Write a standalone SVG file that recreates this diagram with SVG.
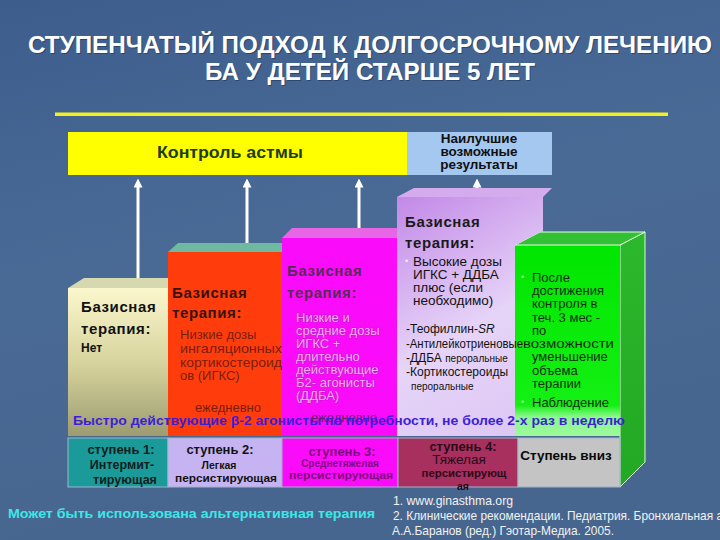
<svg xmlns="http://www.w3.org/2000/svg" width="720" height="540" viewBox="0 0 720 540">
<defs>
<linearGradient id="bg" x1="0" y1="0" x2="0.3" y2="1"><stop offset="0" stop-color="#3d5e8d"/><stop offset="0.5" stop-color="#4a6a96"/><stop offset="1" stop-color="#46668f"/></linearGradient>
<linearGradient id="g1" x1="0" y1="0" x2="0" y2="1"><stop offset="0" stop-color="#fbf7cd"/><stop offset="0.5" stop-color="#d8d49e"/><stop offset="1" stop-color="#9c9c70"/></linearGradient>
<linearGradient id="g4" gradientUnits="userSpaceOnUse" x1="397" y1="190" x2="540" y2="436"><stop offset="0" stop-color="#c186e6"/><stop offset="0.55" stop-color="#e6d4f8"/><stop offset="1" stop-color="#dcc6f4"/></linearGradient>
<linearGradient id="g5" x1="0" y1="0" x2="0" y2="1"><stop offset="0" stop-color="#00e600"/><stop offset="0.84" stop-color="#14f014"/><stop offset="0.9" stop-color="#8cf88c"/><stop offset="1" stop-color="#9cfa9c"/></linearGradient>
<linearGradient id="g5s" x1="0" y1="0" x2="0" y2="1"><stop offset="0" stop-color="#2cb82c"/><stop offset="1" stop-color="#23a823"/></linearGradient>
<marker id="ah" viewBox="0 0 10 10" refX="5" refY="5" markerWidth="3" markerHeight="3" orient="auto"><path d="M0,0 L10,5 L0,10 z" fill="#ffffff"/></marker>
<style>
text{font-family:"Liberation Sans",Arial,sans-serif}
.title{font-size:24px;font-weight:bold;fill:#ffffff;text-anchor:middle}
.tsh{font-size:24px;font-weight:bold;fill:#1e3557;text-anchor:middle;opacity:0.6}
.hd{font-size:15px;font-weight:bold;letter-spacing:0.6px}
.li{font-size:13px}
.cell{font-weight:bold;text-anchor:middle}
.arrow{stroke:#ffffff;stroke-width:3;fill:none;marker-end:url(#ah)}
.ref{font-size:13px;fill:#f2f2f2}
</style>
</defs>
<rect x="0" y="0" width="720" height="540" fill="url(#bg)"/>

<g id="title">
<text class="tsh" x="371" y="54" textLength="684" lengthAdjust="spacingAndGlyphs">СТУПЕНЧАТЫЙ ПОДХОД К ДОЛГОСРОЧНОМУ ЛЕЧЕНИЮ</text>
<text class="title" x="370" y="53" textLength="684" lengthAdjust="spacingAndGlyphs">СТУПЕНЧАТЫЙ ПОДХОД К ДОЛГОСРОЧНОМУ ЛЕЧЕНИЮ</text>
<text class="tsh" x="371" y="81" textLength="330" lengthAdjust="spacingAndGlyphs">БА У ДЕТЕЙ СТАРШЕ 5 ЛЕТ</text>
<text class="title" x="370" y="80" textLength="330" lengthAdjust="spacingAndGlyphs">БА У ДЕТЕЙ СТАРШЕ 5 ЛЕТ</text>
<rect x="55" y="112.5" width="613" height="3.5" fill="#f0f020"/>
</g>

<g id="control">
<rect x="68" y="132" width="339" height="43" fill="#ffff00"/>
<text x="230" y="158" font-size="16" fill="#1d3d12" text-anchor="middle" textLength="146" lengthAdjust="spacingAndGlyphs" font-weight="bold">Контроль астмы</text>
</g>
<g id="results">
<rect x="407" y="132" width="145" height="43" fill="#a4c8f0"/>
<g font-size="13.5" font-weight="bold" fill="#101010" text-anchor="middle">
<text x="479" y="143">Наилучшие</text>
<text x="479" y="156">возможные</text>
<text x="479" y="169">результаты</text>
</g>
</g>

<g id="connectors">
<line class="arrow" x1="138" y1="282" x2="138" y2="183"/>
<line class="arrow" x1="247" y1="247" x2="247" y2="183"/>
<line class="arrow" x1="359" y1="232" x2="359" y2="183"/>
<line class="arrow" x1="477" y1="190" x2="477" y2="183"/>
</g>

<g id="step1">
<polygon points="68,288 168,288 176,278 84,278" fill="#d6d8b0"/>
<rect x="68" y="288" width="100" height="148" fill="url(#g1)"/>
<text class="hd" x="81" y="312" fill="#111">Базисная</text>
<text class="hd" x="81" y="334" fill="#111">терапия:</text>
<text x="81" y="352" font-size="12" font-weight="bold" fill="#111">Нет</text>
</g>

<g id="step2">
<polygon points="168,252 282,252 290,243 178,243" fill="#6dbaa0"/>
<rect x="168" y="252" width="114" height="184" fill="#ff3d0c"/>
<text class="hd" x="172" y="298" fill="#3a120a">Базисная</text>
<text class="hd" x="172" y="318" fill="#3a120a">терапия:</text>
<g class="li" fill="#7a1e0e">
<text x="180" y="339">Низкие дозы</text>
<text x="180" y="353" textLength="102" lengthAdjust="spacingAndGlyphs">ингаляционных</text>
<text x="180" y="367" textLength="102" lengthAdjust="spacingAndGlyphs">кортикостероид</text>
<text x="180" y="380">ов (ИГКС)</text>
<text x="228" y="412" text-anchor="middle">ежедневно</text>
</g>
</g>

<g id="step3">
<polygon points="282,238 397,238 405,228 292,228" fill="#e666e6"/>
<rect x="282" y="238" width="115" height="198" fill="#fa0cfa"/>
<text class="hd" x="287" y="276" fill="#5a2a5a">Базисная</text>
<text class="hd" x="287" y="298" fill="#5a2a5a">терапия:</text>
<g class="li" fill="#ffa8ff" stroke="#8a2a8a" stroke-width="0.6" paint-order="stroke">
<text x="296" y="322">Низкие и</text>
<text x="296" y="335">средние дозы</text>
<text x="296" y="348">ИГКС +</text>
<text x="296" y="361">длительно</text>
<text x="296" y="374">действующие</text>
<text x="296" y="387">Б2- агонисты</text>
<text x="296" y="400">(ДДБА)</text>
</g>
<text x="344" y="422" class="li" fill="#6a1a6a" text-anchor="middle">ежедневно</text>
</g>

<g id="step-down">
<polygon points="620,245 645,232 645,462 620,487" fill="url(#g5s)" stroke="#d8ffd8" stroke-width="1"/>
<rect x="515" y="245" width="105" height="191" fill="url(#g5)"/>
<polygon points="515,245 620,245 645,232 540,232" fill="#34c034" stroke="#e0ffe0" stroke-width="1"/>
<text x="521" y="280" font-size="9" fill="#a0ffa0">•</text>
<g font-size="13" fill="#103010">
<text x="532" y="282">После</text>
<text x="532" y="295">достижения</text>
<text x="532" y="308">контроля в</text>
<text x="532" y="322">теч. 3 мес -</text>
<text x="532" y="335">по</text>
<text x="523" y="348" textLength="91" lengthAdjust="spacingAndGlyphs">возможности</text>
<text x="532" y="361">уменьшение</text>
<text x="532" y="375">объема</text>
<text x="532" y="388">терапии</text>
<text x="532" y="407">Наблюдение</text>
</g>
<text x="521" y="405" font-size="9" fill="#a0ffa0">•</text>
</g>

<g id="step4">
<polygon points="397,197 543,197 552,188 414,188" fill="#d4acee"/>
<polygon points="397,197 543,197 543,232 540,232 515,245 515,436 397,436" fill="url(#g4)"/>
<text class="hd" x="405" y="227" fill="#1a1a1a">Базисная</text>
<text class="hd" x="405" y="248" fill="#1a1a1a">терапия:</text>
<text x="405" y="264" font-size="9" fill="#f4ecff">•</text>
<g font-size="13.5" fill="#111">
<text x="413" y="266">Высокие дозы</text>
<text x="413" y="279">ИГКС + ДДБА</text>
<text x="413" y="292">плюс (если</text>
<text x="413" y="305">необходимо)</text>
</g>
<g font-size="12" fill="#111">
<text x="406" y="333">-Теофиллин-<tspan font-style="italic">SR</tspan></text>
<text x="406" y="348" textLength="117" lengthAdjust="spacingAndGlyphs">-Антилейкотриеновые</text>
<text x="406" y="362">-ДДБА <tspan font-size="10">пероральные</tspan></text>
<text x="406" y="376">-Кортикостероиды</text>
<text x="411" y="390" font-size="10">пероральные</text>
</g>
</g>

<g id="reliever">
<text x="73" y="425" font-size="13" font-weight="bold" fill="#3d1fd6" textLength="552" lengthAdjust="spacingAndGlyphs">Быстро действующие β-2 агонисты по потребности, не более 2-х раз в неделю</text>
</g>

<g id="steps-table" stroke="#9fb3cc" stroke-width="1">
<rect x="68" y="438" width="100" height="49" fill="#1b9a9a"/>
<rect x="168" y="438" width="114" height="49" fill="#c6b4f2"/>
<rect x="282" y="438" width="116" height="49" fill="#fa0cfa"/>
<rect x="398" y="438" width="120" height="49" fill="#a8305e"/>
<rect x="518" y="438" width="102" height="49" fill="#c4c4c4"/>
</g>
<g id="step1-label" fill="#0e1e1e">
<text x="121" y="454" font-size="13" class="cell">ступень 1:</text>
<text x="122" y="469" font-size="12.5" class="cell">Интермит-</text>
<text x="125" y="484" font-size="12.5" class="cell">тирующая</text>
</g>
<g id="step2-label" fill="#121212">
<text x="220" y="454" font-size="13" class="cell">ступень 2:</text>
<text x="219" y="469" font-size="10.5" class="cell">Легкая</text>
<text x="226" y="482" font-size="10.5" class="cell" textLength="102" lengthAdjust="spacingAndGlyphs">персистирующая</text>
</g>
<g id="step3-label" fill="#7e0a7e">
<text x="342" y="456" font-size="13" class="cell">ступень 3:</text>
<text x="340" y="467" font-size="10" class="cell">Среднетяжелая</text>
<text x="341" y="479" font-size="10" class="cell" textLength="104" lengthAdjust="spacingAndGlyphs">персистирующая</text>
</g>
<g id="step4-label" fill="#2a0a18">
<text x="463" y="451" font-size="13" class="cell">ступень 4:</text>
<text x="459" y="464" font-size="13.5" text-anchor="middle">Тяжелая</text>
<text x="464" y="477" font-size="10.5" class="cell" textLength="85" lengthAdjust="spacingAndGlyphs">персистирующ</text>
<text x="463" y="490" font-size="10.5" class="cell">ая</text>
</g>
<g id="step-down-label">
<text x="566" y="460" font-size="13.5" class="cell" fill="#0a0a0a">Ступень вниз</text>
</g>

<g id="footer">
<text x="8" y="518" font-size="13" font-weight="bold" fill="#3ee6e6" textLength="367" lengthAdjust="spacingAndGlyphs">Может быть использована альтернативная терапия</text>
<text class="ref" x="393" y="505" textLength="120" lengthAdjust="spacingAndGlyphs">1. www.ginasthma.org</text>
<text class="ref" x="393" y="520" textLength="330" lengthAdjust="spacingAndGlyphs">2. Клинические рекомендации. Педиатрия. Бронхиальная а</text>
<text class="ref" x="392" y="535" textLength="222" lengthAdjust="spacingAndGlyphs">А.А.Баранов (ред.) Гэотар-Медиа. 2005.</text>
</g>
</svg>
